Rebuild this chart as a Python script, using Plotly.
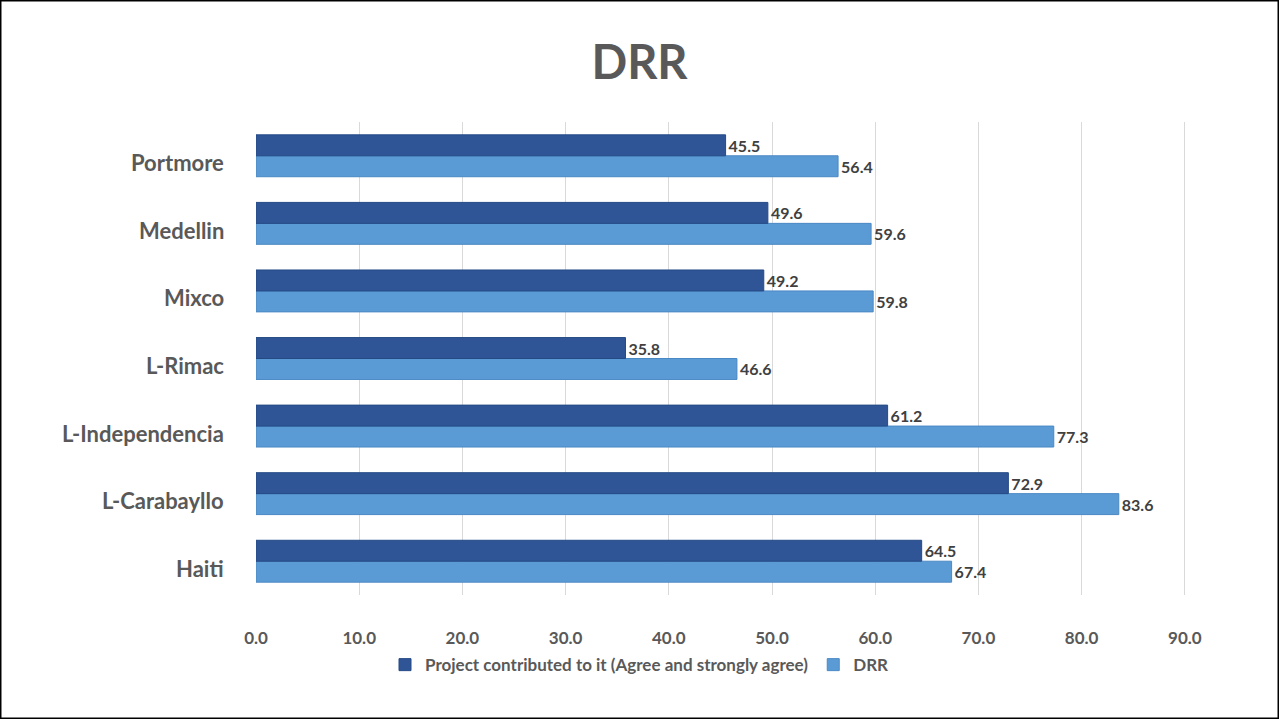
import plotly.graph_objects as go

# Survey results per site (percent)
sites = ["Haiti", "L-Carabayllo", "L-Independencia", "L-Rimac", "Mixco", "Medellin", "Portmore"]
project_contributed = [64.5, 72.9, 61.2, 35.8, 49.2, 49.6, 45.5]
drr = [67.4, 83.6, 77.3, 46.6, 59.8, 59.6, 56.4]
x_ticks = [0, 10, 20, 30, 40, 50, 60, 70, 80, 90]

DARK = "#2F5597"
LIGHT = "#5B9BD5"
GRAY = "#595959"
FONT = "Lato"

fig = go.Figure()

# DRR goes first so it sits below the darker bar inside each group
fig.add_trace(go.Bar(
    y=sites, x=drr, orientation="h", name="DRR",
    marker=dict(color=LIGHT, line=dict(color="#4A88C4", width=1)),
    texttemplate="%{x:.1f}", textposition="outside", cliponaxis=False,
    textfont=dict(family=FONT, size=16, color="#404040", weight="bold"),
    legendrank=2,
))
fig.add_trace(go.Bar(
    y=sites, x=project_contributed, orientation="h",
    name="Project contributed to it (Agree and strongly agree)",
    marker=dict(color=DARK, line=dict(color="#244A85", width=1)),
    texttemplate="%{x:.1f}", textposition="outside", cliponaxis=False,
    textfont=dict(family=FONT, size=16, color="#404040", weight="bold"),
    legendrank=1,
))

# Category names drawn as annotations so they can sit slightly below the group centre
site_labels = [
    dict(x=0, xref="paper", y=s, yref="y", text=f"<b>{s}</b>", showarrow=False,
         xanchor="right", xshift=-30, yshift=-7,
         font=dict(family=FONT, size=22, color=GRAY))
    for s in sites
]

fig.update_layout(
    width=1279, height=719,
    margin=dict(l=256, r=89, t=122, b=124, autoexpand=False),
    paper_bgcolor="white", plot_bgcolor="white",
    barmode="group", bargap=0.38, bargroupgap=0,
    title=dict(text="<b>DRR</b>", x=0.5, xanchor="center", y=0.913, yanchor="middle",
               font=dict(family=FONT, size=47, color=GRAY)),
    xaxis=dict(range=[0, 90.5], tickvals=x_ticks, ticktext=[f"{v:.1f}" for v in x_ticks],
               showgrid=True, gridcolor="#D9D9D9", gridwidth=1, zeroline=False,
               showline=False, ticks="", ticklabelstandoff=31,
               tickfont=dict(family=FONT, size=17, color=GRAY, weight="bold")),
    yaxis=dict(showgrid=False, zeroline=False, showline=False, ticks="",
               showticklabels=False),
    legend=dict(orientation="h", xref="container", x=0.5, xanchor="center",
                yref="container", y=0.075, yanchor="middle",
                font=dict(family=FONT, size=17, color=GRAY, weight="bold"),
                itemwidth=30, traceorder="normal"),
    showlegend=True,
    annotations=site_labels,
    shapes=[dict(type="rect", xref="paper", yref="paper", x0=-0.2741, x1=1.0953,
                 y0=-0.262, y1=1.258, line=dict(color="black", width=3))],
)

fig.write_html("out.html")
